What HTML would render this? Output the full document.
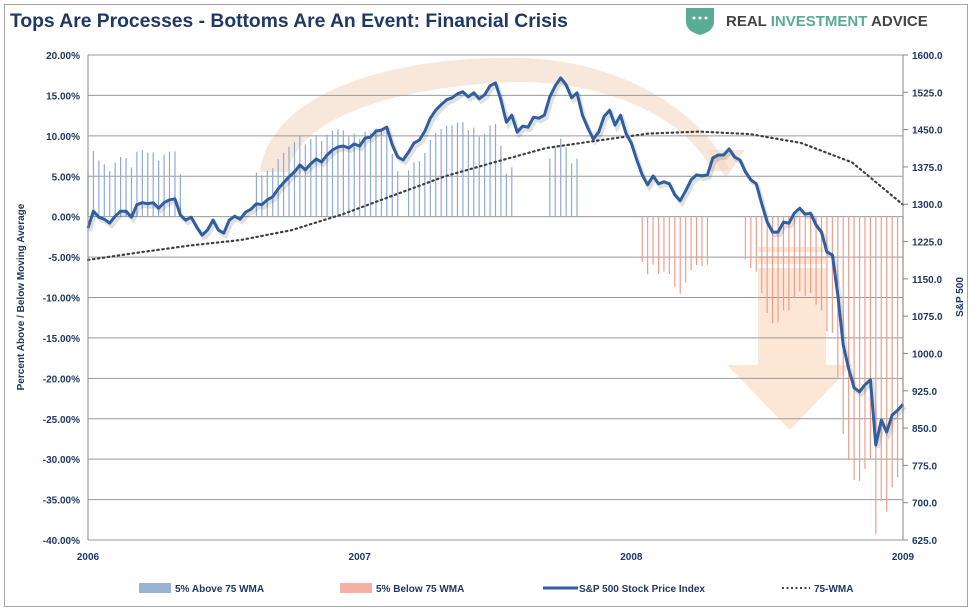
<!DOCTYPE html>
<html><head><meta charset="utf-8">
<style>
body{margin:0;background:#fff;width:978px;height:616px;overflow:hidden;font-family:"Liberation Sans",sans-serif;}
#wrap{position:absolute;left:4px;top:4px;width:964px;height:603px;border:1px solid #a6a6a6;box-sizing:border-box;}
.t{font-family:"Liberation Sans",sans-serif;font-weight:bold;fill:#1f3864;}
</style></head>
<body>
<div id="wrap"></div>
<svg id="chart" width="978" height="616" style="position:absolute;left:0;top:0">
  <text x="10" y="27" class="t" font-size="19.3">Tops Are Processes - Bottoms Are An Event: Financial Crisis</text>
  <g>
    <path d="M686,8 h28 v14 q0,9 -14,13 q-14,-4 -14,-13 z" fill="#5aab94"/>
    <circle cx="694" cy="18" r="1.5" fill="#fff"/><circle cx="700" cy="18" r="1.5" fill="#fff"/><circle cx="706" cy="18" r="1.5" fill="#fff"/>
    <text x="726" y="26" font-size="15" font-weight="bold" fill="#444" font-family="Liberation Sans,sans-serif">REAL <tspan fill="#5aab94">INVESTMENT</tspan> ADVICE</text>
  </g>
  <g id="bg">
    <path d="M260,172 C270,90 400,55 520,58 C620,60 700,110 730,170 L712,172 C690,120 610,82 520,82 C420,84 300,110 288,172 Z" fill="#f2d3bd" opacity="0.55"/>
    <polygon points="708,150 745,150 726,178" fill="#f2d3bd" opacity="0.55"/>
    <rect x="758" y="247" width="68" height="5" fill="#fbe0cc" opacity="0.8"/>
    <rect x="758" y="256" width="68" height="8" fill="#fbe0cc" opacity="0.8"/>
    <rect x="758" y="268" width="68" height="97" fill="#fbe0cc" opacity="0.8"/>
    <polygon points="727,365 852,365 790,430" fill="#fbe0cc" opacity="0.8"/>
  </g>
  <g id="grid"></g>
  <g id="bars"></g>
  <g id="lines"></g>
  <g id="axes"></g>
  <text transform="translate(24,297) rotate(-90)" text-anchor="middle" class="t" font-size="10">Percent Above / Below Moving Average</text>
  <text transform="translate(963,297) rotate(-90)" text-anchor="middle" class="t" font-size="10">S&amp;P 500</text>
  <g>
    <g><rect x="139" y="583" width="32" height="10" fill="#9ab3d5"/><text x="175" y="592" class="t" font-size="10">5% Above 75 WMA</text></g>
    <g><rect x="340" y="583" width="32" height="10" fill="#f4b0a4"/><text x="376" y="592" class="t" font-size="10">5% Below 75 WMA</text></g>
    <g><line x1="543" y1="588" x2="578" y2="588" stroke="#2f5f9e" stroke-width="3"/><text x="579" y="592" class="t" font-size="10">S&amp;P 500 Stock Price Index</text></g>
    <g><line x1="782" y1="588" x2="810" y2="588" stroke="#444" stroke-width="2" stroke-dasharray="2,2.5"/><text x="814" y="592" class="t" font-size="10">75-WMA</text></g>
  </g>
</svg>
<script>
const sp = [1252,1286,1274,1270,1262,1276,1286,1286,1274,1299,
1303,1301,1303,1292,1303,1309,1311,1278,1268,1274,
1254,1238,1248,1268,1248,1242,1268,1276,1270,1284,
1290,1301,1299,1309,1315,1331,1343,1355,1365,1379,
1369,1381,1391,1385,1399,1409,1415,1417,1413,1421,
1417,1433,1435,1447,1449,1455,1419,1395,1389,1405,
1423,1429,1447,1473,1489,1500,1510,1514,1522,1526,
1516,1524,1512,1520,1538,1544,1510,1465,1479,1445,
1457,1455,1475,1473,1479,1516,1538,1554,1540,1514,
1524,1479,1453,1431,1445,1477,1489,1459,1479,1443,
1423,1389,1359,1339,1357,1341,1345,1341,1319,1307,
1327,1349,1359,1357,1359,1393,1399,1399,1411,1395,
1389,1365,1349,1341,1301,1264,1244,1244,
1264,1262,1282,1292,1280,1282,1258,1244,1204,1198,1118,1017,969,931,923,937,947,816,866,842,876,886,898];
const wma = [1188,1203,1217,1228,1248,1280,1318,1356,1385,1413,1428,1442,1446,1441,1423,1384,1299];
const pctTicks = [20,15,10,5,0,-5,-10,-15,-20,-25,-30,-35,-40];
const spTicks = [1600,1525,1450,1375,1300,1225,1150,1075,1000,925,850,775,700,625];
const years = ['2006','2007','2008','2009'];

const X0=88,X1=903,Y0=55,Y1=540;
const NS='http://www.w3.org/2000/svg';
function yPct(p){return Y0+(20-p)/60*(Y1-Y0);}
function ySp(v){return Y0+(1600-v)/975*(Y1-Y0);}
function xFrac(f){return X0+f*(X1-X0);}
function mk(tag,attrs,parent){const e=document.createElementNS(NS,tag);for(const k in attrs)e.setAttribute(k,attrs[k]);document.getElementById(parent).appendChild(e);return e;}
function wmaAt(f){const t=f*(wma.length-1);const i=Math.min(Math.floor(t),wma.length-2);const r=t-i;return wma[i]*(1-r)+wma[i+1]*r;}

pctTicks.forEach(p=>{
  const g=mk('line',{x1:X0,x2:X1,y1:yPct(p),y2:yPct(p),stroke:'#9a9a9a','stroke-width':1},'grid');
  
  
  const t=mk('text',{x:X0-8,y:yPct(p)+4,'text-anchor':'end','font-size':10,class:'t'},'axes');
  t.textContent=p.toFixed(2)+'%';
  
  
});
spTicks.forEach(v=>{
  const tk=mk('line',{x1:X1,x2:X1+5,y1:ySp(v),y2:ySp(v),stroke:'#888'},'axes');
  
  
  const t=mk('text',{x:X1+9,y:ySp(v)+4,'font-size':10,class:'t'},'axes');
  t.textContent=v.toFixed(1);
  
  
});
const la=mk('line',{x1:X0,x2:X0,y1:Y0,y2:Y1,stroke:'#888'},'axes');


const ra=mk('line',{x1:X1,x2:X1,y1:Y0,y2:Y1,stroke:'#888'},'axes');


years.forEach((y,i)=>{
  const t=mk('text',{x:xFrac(i/(years.length-1)),y:560,'text-anchor':'middle','font-size':10,class:'t'},'axes');
  t.textContent=y;
  
  
});

const n=sp.length;
sp.forEach((v,i)=>{
  const f=i/(n-1);
  const dev=(v/wmaAt(f)-1)*100;
  if(Math.abs(dev)<5) return;
  const b=mk('line',{x1:xFrac(f),x2:xFrac(f),y1:yPct(0),y2:yPct(dev),stroke:dev>0?'#8faad3':'#f29c8c','stroke-width':1.2},'bars');
  
  
});
const wp=wma.map((v,i)=>xFrac(i/(wma.length-1)).toFixed(1)+','+ySp(v).toFixed(1)).join(' ');
const wl=mk('polyline',{points:wp,fill:'none',stroke:'#404040','stroke-width':2.2,'stroke-dasharray':'1.5,3.5','stroke-linecap':'round'},'lines');


const sh=sp.map((v,i)=>(xFrac(i/(n-1))+2).toFixed(1)+','+(ySp(v)+3).toFixed(1)).join(' ');
const sl0=mk('polyline',{points:sh,fill:'none',stroke:'rgba(0,0,0,0.12)','stroke-width':4},'lines');


const pp=sp.map((v,i)=>xFrac(i/(n-1)).toFixed(1)+','+ySp(v).toFixed(1)).join(' ');
const sl=mk('polyline',{points:pp,fill:'none',stroke:'#2f5f9e','stroke-width':3,'stroke-linejoin':'round'},'lines');


</script>
</body></html>
